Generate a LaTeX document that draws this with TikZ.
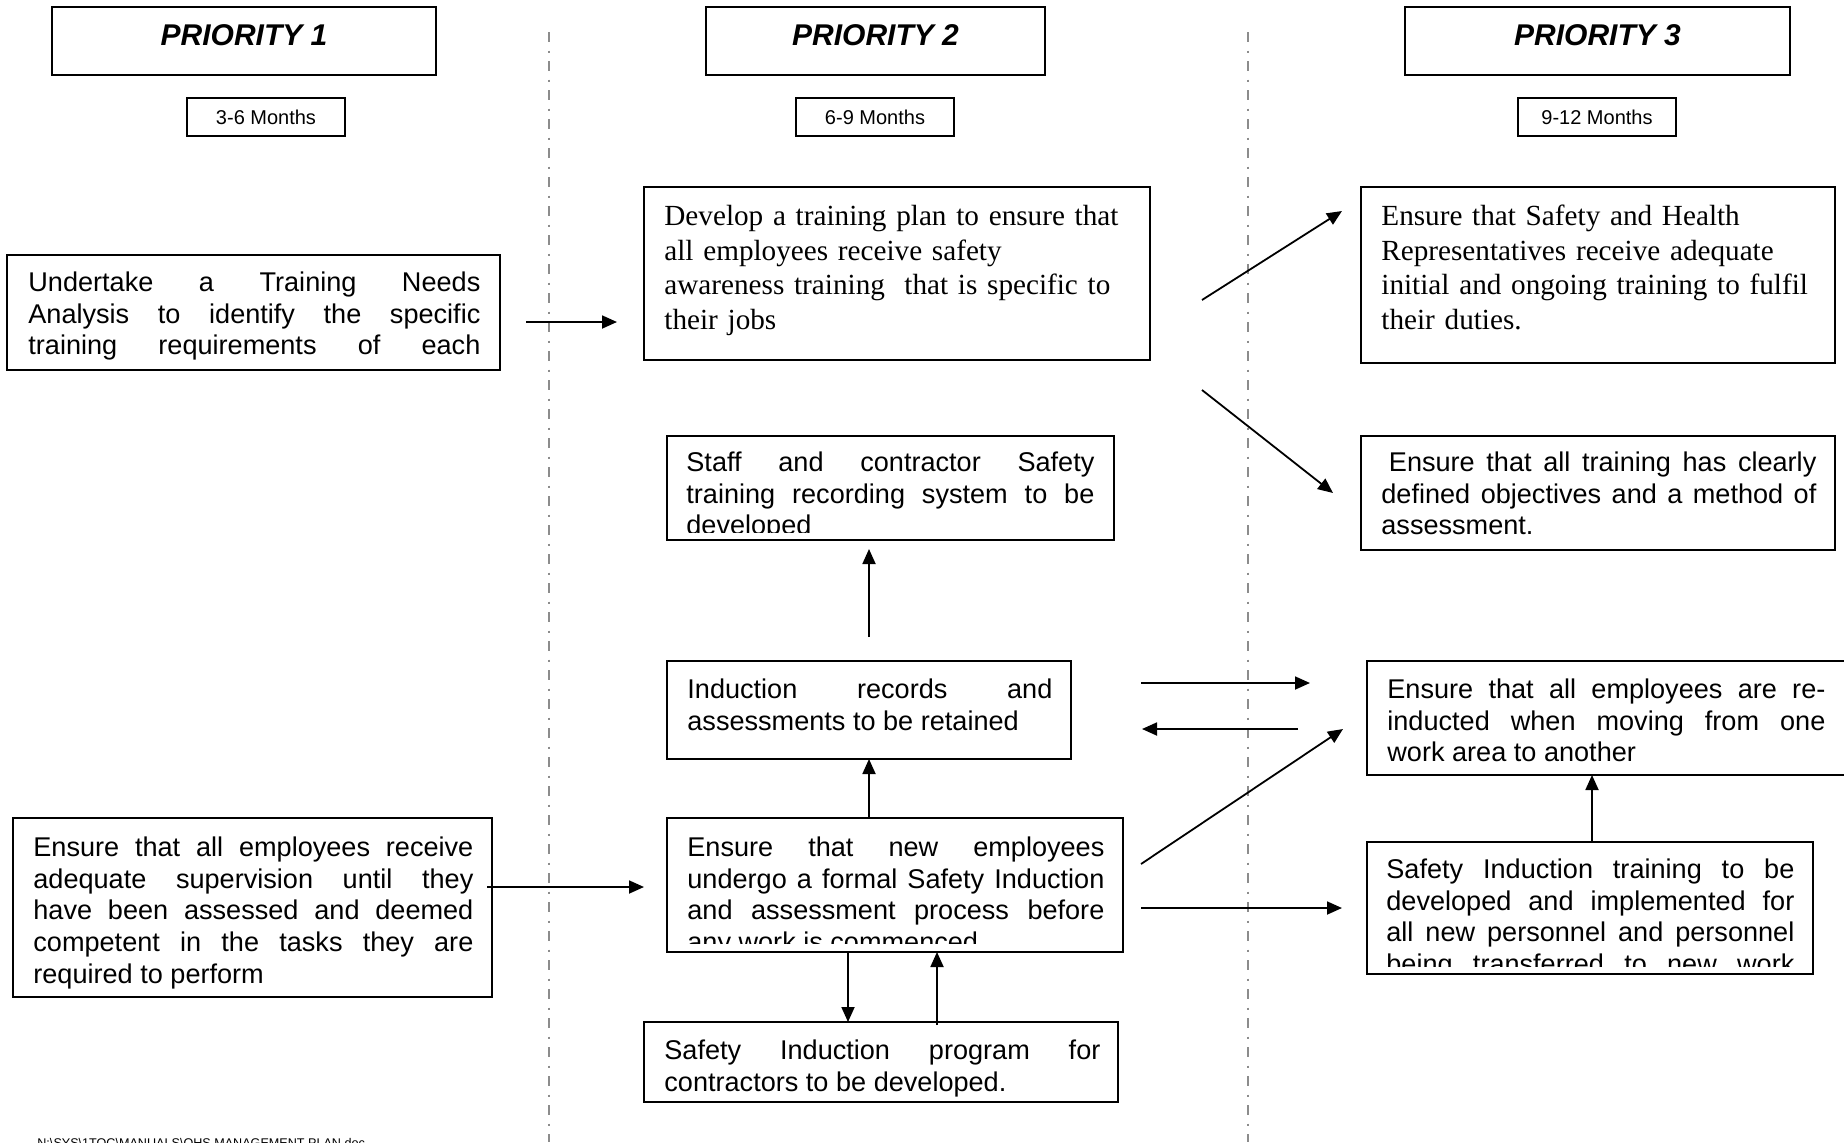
\documentclass[tikz,border=0pt]{standalone}
\usepackage{fontspec}
\setmainfont{Liberation Sans}
\newfontfamily\timesfont{Liberation Serif}
\usetikzlibrary{arrows.meta,calc,fit}

% text sizes (picture unit: 1 px = 0.5pt)
\newcommand\bodyfont{\fontsize{13.55pt}{15.9pt}\selectfont}
\newcommand\serifbody{\timesfont\fontsize{14.6pt}{17.4pt}\selectfont}
\newcommand\headfont{\fontsize{15pt}{18pt}\selectfont\bfseries\itshape}
\newcommand\monthfont{\fontsize{10pt}{12pt}\selectfont}
\newcommand\footfont{\fontsize{6.3pt}{7.5pt}\selectfont}

\begin{document}
\begin{tikzpicture}[x=0.5pt,y=-0.5pt,
  panel/.style={draw=black, line width=0.9pt, inner sep=0pt, outer sep=0pt},
  bodytext/.style={anchor=north west, inner sep=0pt, font=\bodyfont, align=justify},
  serifbox/.style={anchor=north west, inner sep=0pt, font=\serifbody, align=left},
  headtext/.style={anchor=base, inner sep=0pt, font=\headfont},
  arrowline/.style={-{Triangle[length=7.5pt,width=6.5pt]}, line width=0.9pt},
  divline/.style={draw=black!45, line width=1pt, dash pattern=on 5pt off 4.25pt on 1pt off 4.25pt}
]
\useasboundingbox (0,0) rectangle (1844,1142);
\fill[white] (0,0) rectangle (1844,1142);

% column dividers
\draw[divline] (549,32) -- (549,1142);
\draw[divline] (1248,32) -- (1248,1142);

% column headings
\node[panel, fit={(52,7) (436,75)}] (P1) {};
\node[headtext] (P1t) at (P1.north |- 0,45) {PRIORITY 1};
\node[panel, fit={(706,7) (1045,75)}] (P2) {};
\node[headtext] (P2t) at (P2.north |- 0,45) {PRIORITY 2};
\node[panel, fit={(1405,7) (1790,75)}] (P3) {};
\node[headtext] (P3t) at (P3.north |- 0,45) {PRIORITY 3};

\node[panel, fit={(187,98) (345,136)}] (M1) {};
\node[font=\monthfont, inner sep=0pt] (M1t) at (M1.center) {3-6 Months};
\node[panel, fit={(796,98) (954,136)}] (M2) {};
\node[font=\monthfont, inner sep=0pt] (M2t) at (M2.center) {6-9 Months};
\node[panel, fit={(1518,98) (1676,136)}] (M3) {};
\node[font=\monthfont, inner sep=0pt] (M3t) at (M3.center) {9-12 Months};

% priority 1 tasks
\node[panel, fit={(7,255) (500,370)}] (A) {};
\node[bodytext, text width=226pt] (At) at (28,268.7)
  {\strut Undertake a Training Needs\linebreak Analysis to identify the specific\linebreak training requirements of each\linebreak};

\node[panel, fit={(13,818) (492,997)}] (I) {};
\node[bodytext, text width=220pt] (It) at (33,833.7)
  {\strut Ensure that all employees receive\linebreak adequate supervision until they\linebreak have been assessed and deemed\linebreak competent in the tasks they are\linebreak required to perform};

% priority 2 tasks
\node[panel, fit={(644,187) (1150,360)}] (B) {};
\node[serifbox, text width=240pt] (Bt) at (664,200.6)
  {\strut Develop a training plan to ensure that\\ all employees receive safety\\ awareness training\ \ that is specific to\\ their jobs};

\node[panel, fit={(667,436) (1114,540)}] (E) {};
\begin{scope}
  \clip (667,436) rectangle (1114,532);
  \node[bodytext, text width=204pt] (Et) at (686,448.7)
    {\strut Staff and contractor Safety\linebreak training recording system to be\linebreak developed};
\end{scope}

\node[panel, fit={(667,661) (1071,759)}] (F) {};
\node[bodytext, text width=182.5pt] (Ft) at (687,675.7)
  {\strut Induction records and\linebreak assessments to be retained};

\node[panel, fit={(667,818) (1123,952)}] (G) {};
\begin{scope}
  \clip (667,818) rectangle (1123,943);
  \node[bodytext, text width=208.5pt] (Gt) at (687,833.7)
    {\strut Ensure that new employees\linebreak undergo a formal Safety Induction\linebreak and assessment process before\linebreak any work is commenced};
\end{scope}

\node[panel, fit={(644,1022) (1118,1102)}] (H) {};
\node[bodytext, text width=218pt] (Ht) at (664,1036.7)
  {\strut Safety Induction program for\linebreak contractors to be developed.};

% priority 3 tasks
\node[panel, fit={(1361,187) (1835,363)}] (C) {};
\node[serifbox, text width=230pt] (Ct) at (1381,200.6)
  {\strut Ensure that Safety and Health\\ Representatives receive adequate\\ initial and ongoing training to fulfil\\ their duties.};

\node[panel, fit={(1361,436) (1835,550)}] (D) {};
\node[bodytext, text width=217.5pt] (Dt) at (1381,448.7)
  {\strut\kern3.77pt Ensure that all training has clearly\linebreak defined objectives and a method of\linebreak assessment.};

\node[panel, fit={(1367,661) (1852,775)}] (J) {};
\node[bodytext, text width=219pt] (Jt) at (1387,675.7)
  {\strut Ensure that all employees are re-\linebreak inducted when moving from one\linebreak work area to another};

\node[panel, fit={(1367,842) (1813,974)}] (K) {};
\begin{scope}
  \clip (1367,842) rectangle (1813,966);
  \node[bodytext, text width=204pt] (Kt) at (1386,855.7)
    {\strut Safety Induction training to be\linebreak developed and implemented for\linebreak all new personnel and personnel\linebreak being transferred to new work\linebreak};
\end{scope}

% connectors
\draw[arrowline] ($(A.east)+(26,9.5)$) -- ($(B.west)+(-27,48.5)$);
\draw[arrowline] ($(B.east)+(52,26.5)$) -- ($(C.west)+(-19,-64)$);
\draw[arrowline] ($(B.east)+(52,116.5)$) -- ($(D.west)+(-28,0)$);
\draw[arrowline] ($(F.north)+(0,-24)$) -- ($(F.north |- E.south)+(0,9)$);
\draw[arrowline] (F.south |- G.north) -- (F.south);
\draw[arrowline] ($(G.south)+(-47,0)$) -- ($(G.south |- H.north)+(-47,0)$);
\draw[arrowline] ($(G.south |- H.north)+(42,3)$) -- ($(G.south)+(42,0)$);
\draw[arrowline] ($(I.east)+(-5,-20.5)$) -- ($(G.west)+(-23,2)$);
\draw[arrowline] ($(F.east)+(70,-27)$) -- ($(J.west)+(-57,-35)$);
\draw[arrowline] ($(J.west)+(-69,11)$) -- ($(F.east)+(71,19)$);
\draw[arrowline] ($(G.east)+(18,-21)$) -- ($(J.west)+(-24,11)$);
\draw[arrowline] ($(G.east)+(18,23)$) -- ($(K.west)+(-25,0)$);
\draw[arrowline] ($(K.north)+(2,0)$) -- ($(K.north |- J.south)+(2,0)$);

% file path footer, cut by the page edge
\begin{scope}
  \clip (0,0) rectangle (1844,1142);
  \node[anchor=base west, inner sep=0pt, font=\footfont] (foot) at (37,1147)
    {N:\textbackslash SYS\textbackslash 1TOC\textbackslash MANUALS\textbackslash OHS MANAGEMENT PLAN.doc};
\end{scope}
\end{tikzpicture}
\end{document}
